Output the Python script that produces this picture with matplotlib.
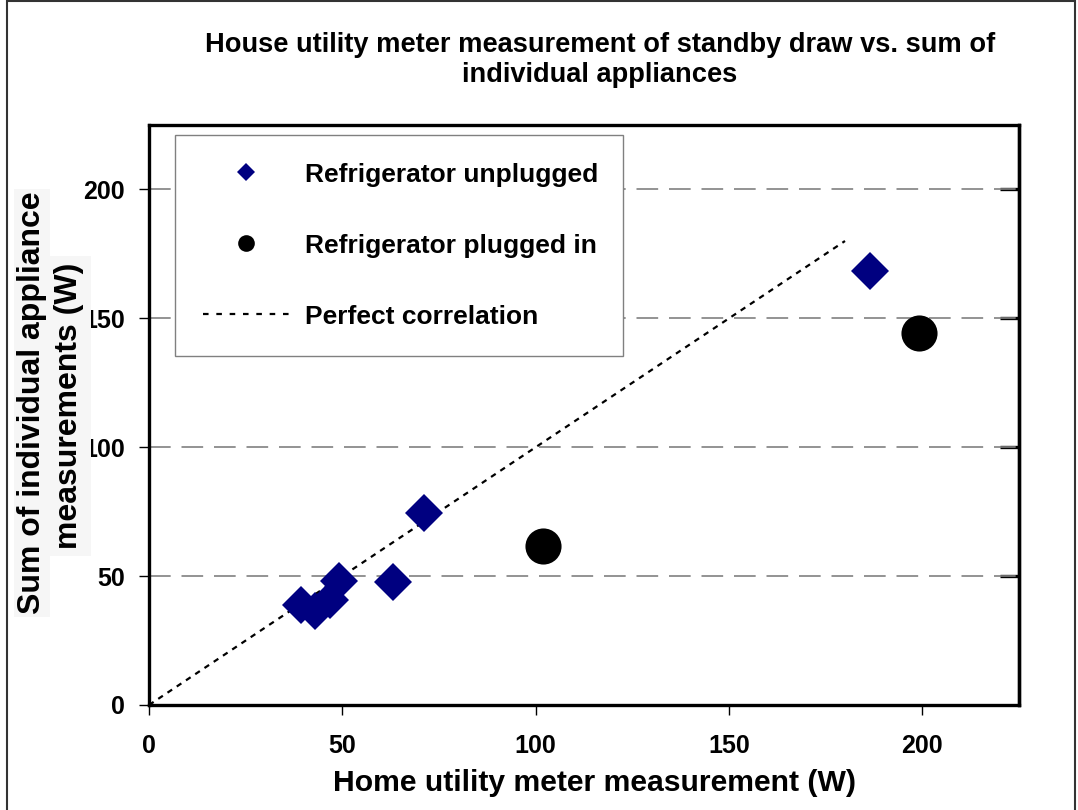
import matplotlib
matplotlib.use("Agg")
import matplotlib.pyplot as plt
from matplotlib.lines import Line2D
from matplotlib.patches import Rectangle

plt.rcParams['font.family'] = ['Liberation Sans', 'DejaVu Sans']
plt.rcParams['font.weight'] = 'bold'
plt.rcParams['axes.labelweight'] = 'bold'

# data
unplugged_x = [39.4, 43.0, 46.8, 49.2, 63.0, 71.2, 186.4]
unplugged_y = [38.6, 36.4, 40.6, 48.0, 47.9, 74.5, 168.5]
plugged_x = [101.9, 199.2]
plugged_y = [61.6, 144.2]
perfect_x = [0, 180]
perfect_y = [0, 180]

ticks = [0, 50, 100, 150, 200]

fig = plt.figure(figsize=(10.78, 8.10), dpi=100)
ax = fig.add_axes([149 / 1078, 105 / 810, 870 / 1078, 580 / 810])

ax.plot(perfect_x, perfect_y, color='black', linestyle=(0, (2.5, 2.5)), lw=1.6, zorder=2)
ax.plot(unplugged_x, unplugged_y, linestyle='none', marker='D', markersize=19,
        color='#000080', markeredgewidth=0, zorder=3)
ax.plot(plugged_x, plugged_y, linestyle='none', marker='o', markersize=26,
        color='black', markeredgewidth=0, zorder=3)

ax.set_xlim(0, 225)
ax.set_ylim(0, 225)
ax.set_xticks(ticks)
ax.set_yticks(ticks)
ax.grid(axis='y', color='#808080', linestyle=(0, (13, 6.5)), linewidth=1.2)
ax.set_axisbelow(True)

for s in ax.spines.values():
    s.set_linewidth(2.4)
ax.tick_params(axis='y', direction='out', length=7, width=1, pad=10.5, labelsize=18)
ax.tick_params(axis='x', direction='out', length=7, width=1, pad=14, labelsize=18)

# thick inward ticks on the right side
sec = ax.secondary_yaxis('right')
sec.set_yticks([50, 100, 150, 200])
sec.tick_params(direction='in', length=14, width=2.4, labelright=False)
sec.spines['right'].set_linewidth(2.4)

ax.set_xlabel('Home utility meter measurement (W)', fontsize=21.7, labelpad=8)
ax.xaxis.label.set_x(0.512)

fig.text(600 / 1078, 1 - 60 / 810,
         'House utility meter measurement of standby draw vs. sum of\nindividual appliances',
         ha='center', va='center', fontsize=19.6, linespacing=1.15)

fig.text(32 / 1078, 1 - 403 / 810, 'Sum of individual appliance', rotation=90,
         ha='center', va='center', fontsize=23, zorder=10,
         bbox=dict(facecolor='#f6f6f6', edgecolor='none', pad=2))
fig.text(69 / 1078, 1 - 406 / 810, 'measurements (W)', rotation=90,
         ha='center', va='center', fontsize=23, zorder=10,
         bbox=dict(facecolor='#f6f6f6', edgecolor='none', pad=5))

handles = [
    Line2D([], [], linestyle='none', marker='D', markersize=9, color='#000080', markeredgewidth=0),
    Line2D([], [], linestyle='none', marker='o', markersize=12, color='black', markeredgewidth=0),
    Line2D([], [], color='black', linestyle=(0, (2.5, 3.5)), lw=1.6),
]
labels = ['Refrigerator unplugged', 'Refrigerator plugged in', 'Perfect correlation']
leg = ax.legend(handles, labels, loc='upper left', bbox_to_anchor=(0.03, 0.983, 0.515, 0.0),
                mode='expand', borderaxespad=0, fontsize=19, fancybox=False,
                edgecolor='#808080', framealpha=1, borderpad=1.05, handlelength=3.3,
                handletextpad=0.57, labelspacing=1.78)
leg.get_frame().set_linewidth(1)

fig.patches.append(Rectangle((7 / 1078, -0.01), 1068 / 1078, 1.0 - 1 / 810 + 0.01,
                             transform=fig.transFigure, fill=False, edgecolor='#333333',
                             linewidth=1.5))

fig.savefig('out.png', dpi=100)
